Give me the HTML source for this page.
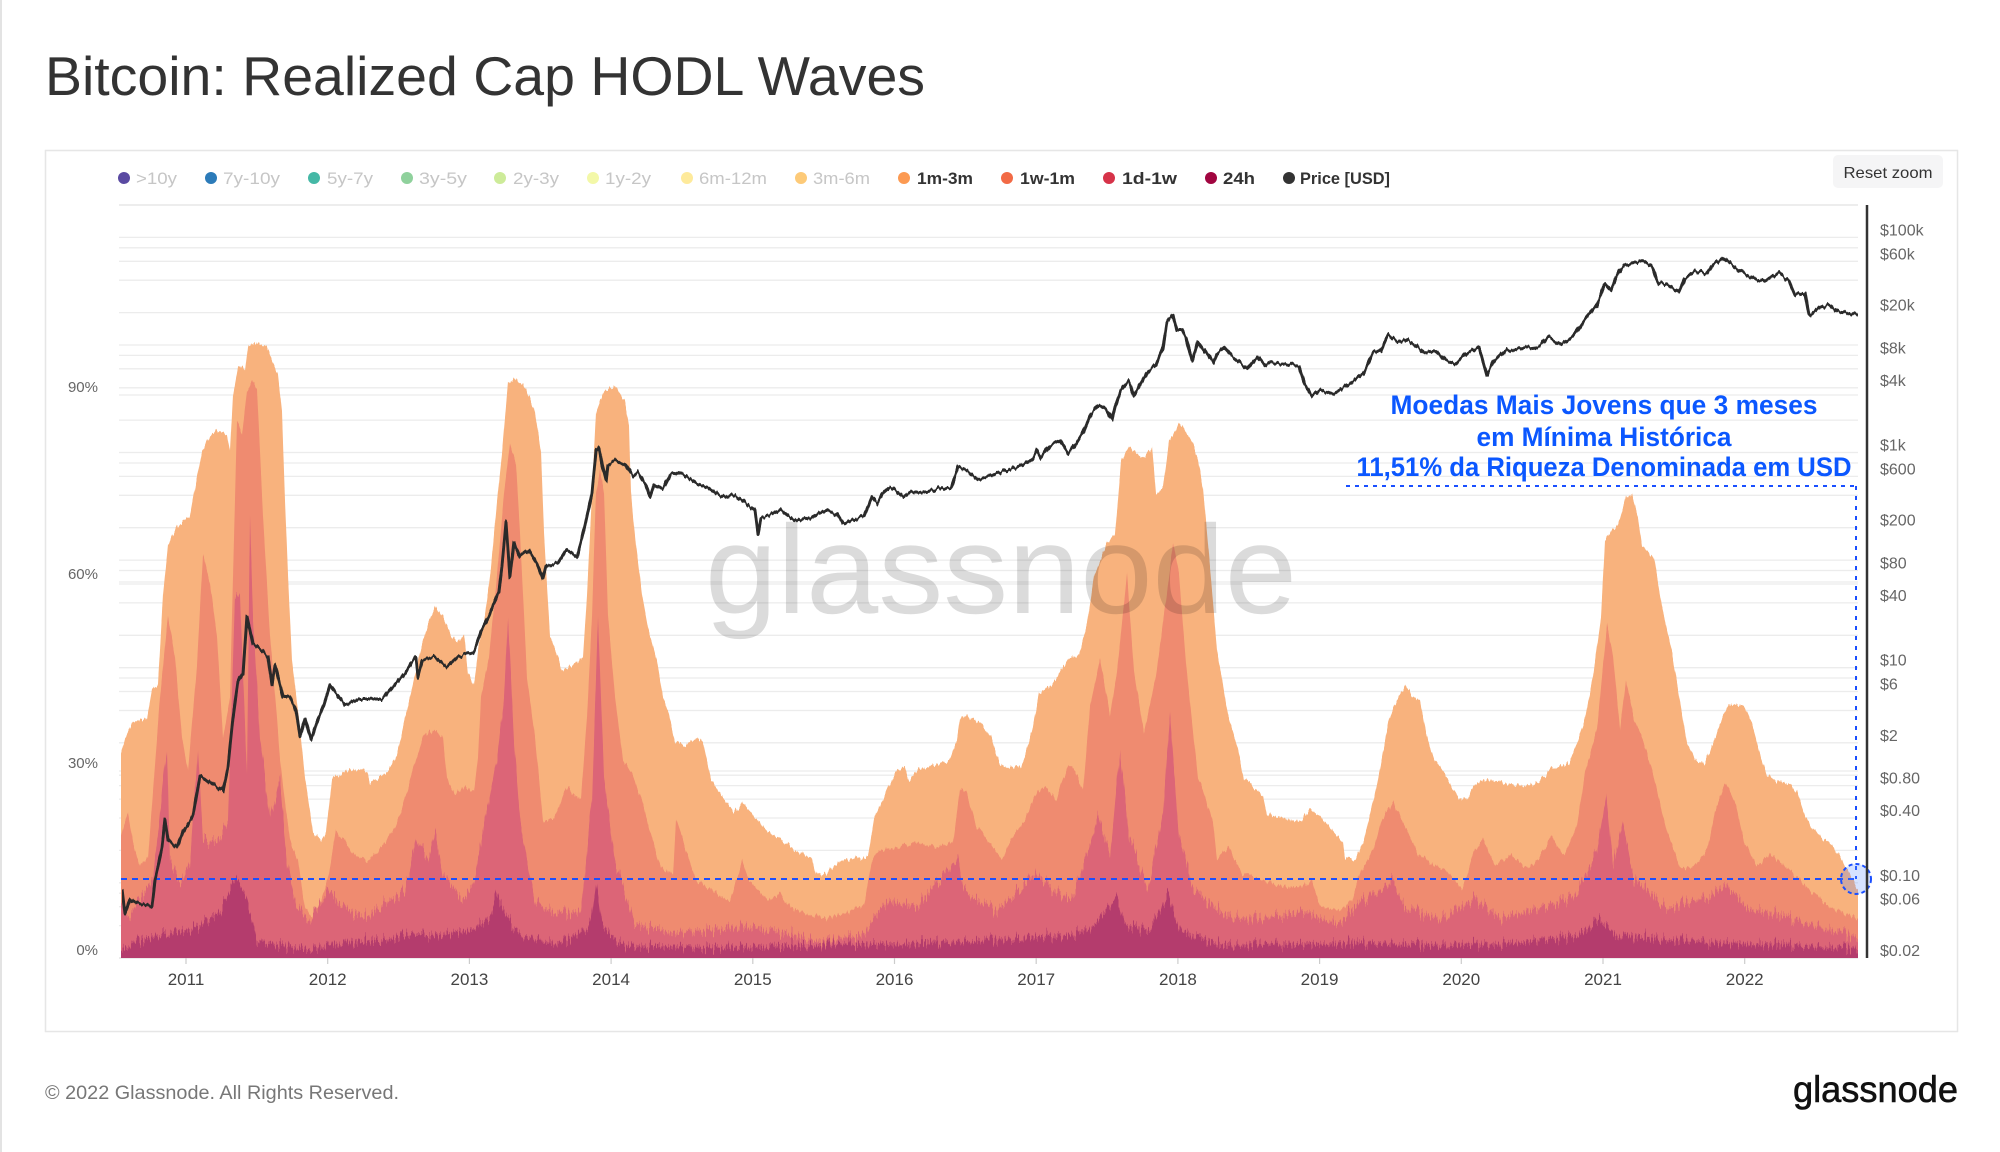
<!DOCTYPE html>
<html><head><meta charset="utf-8"><style>
html,body{margin:0;padding:0;background:#fff;}
svg{display:block;font-family:"Liberation Sans",Arial,sans-serif;}
</style></head><body>
<svg width="2000" height="1152" viewBox="0 0 2000 1152" xmlns="http://www.w3.org/2000/svg">
<defs>
<clipPath id="plot"><rect x="121" y="200" width="1737" height="758"/></clipPath>
<filter id="jagS" x="0" y="-5%" width="100%" height="110%" color-interpolation-filters="sRGB">
<feTurbulence type="fractalNoise" baseFrequency="0.45 0.003" numOctaves="2" seed="4" result="n"/>
<feComponentTransfer in="n" result="m"><feFuncR type="linear" slope="0" intercept="0.5"/></feComponentTransfer>
<feDisplacementMap in="SourceGraphic" in2="m" scale="10" xChannelSelector="R" yChannelSelector="G"/>
</filter>
<filter id="jagL" x="0" y="-5%" width="100%" height="110%" color-interpolation-filters="sRGB">
<feTurbulence type="fractalNoise" baseFrequency="0.6 0.003" numOctaves="2" seed="9" result="n"/>
<feComponentTransfer in="n" result="m"><feFuncR type="linear" slope="0" intercept="0.5"/></feComponentTransfer>
<feDisplacementMap in="SourceGraphic" in2="m" scale="26" xChannelSelector="R" yChannelSelector="G"/>
</filter>
<filter id="jagP" x="0" y="-5%" width="100%" height="110%" color-interpolation-filters="sRGB">
<feTurbulence type="fractalNoise" baseFrequency="0.3 0.01" numOctaves="2" seed="2" result="n"/>
<feComponentTransfer in="n" result="m"><feFuncR type="linear" slope="0" intercept="0.5"/></feComponentTransfer>
<feDisplacementMap in="SourceGraphic" in2="m" scale="7" xChannelSelector="R" yChannelSelector="G"/>
</filter>
</defs>
<rect x="0" y="0" width="2000" height="1152" fill="#fff"/>
<rect x="0" y="0" width="2" height="1152" fill="#e3e3e3"/>
<text x="45" y="95" font-size="55" fill="#333" textLength="880" lengthAdjust="spacingAndGlyphs">Bitcoin: Realized Cap HODL Waves</text>
<rect x="45.5" y="150.5" width="1912" height="881" fill="#fff" stroke="#e6e6e6" stroke-width="1.5"/>
<!-- legend -->
<g font-size="17">
<circle cx="124" cy="178" r="6" fill="#5a4aa2"/><text x="136" y="184" fill="#c6c6c6" textLength="41" lengthAdjust="spacingAndGlyphs">&gt;10y</text>
<circle cx="211" cy="178" r="6" fill="#2c7bb9"/><text x="223" y="184" fill="#c6c6c6" textLength="57" lengthAdjust="spacingAndGlyphs">7y-10y</text>
<circle cx="314" cy="178" r="6" fill="#45b8a6"/><text x="327" y="184" fill="#c6c6c6" textLength="46" lengthAdjust="spacingAndGlyphs">5y-7y</text>
<circle cx="407" cy="178" r="6" fill="#8fd19c"/><text x="419" y="184" fill="#c6c6c6" textLength="48" lengthAdjust="spacingAndGlyphs">3y-5y</text>
<circle cx="500" cy="178" r="6" fill="#cdeb99"/><text x="513" y="184" fill="#c6c6c6" textLength="46" lengthAdjust="spacingAndGlyphs">2y-3y</text>
<circle cx="593" cy="178" r="6" fill="#f3f8a8"/><text x="605" y="184" fill="#c6c6c6" textLength="46" lengthAdjust="spacingAndGlyphs">1y-2y</text>
<circle cx="687" cy="178" r="6" fill="#feea9b"/><text x="699" y="184" fill="#c6c6c6" textLength="68" lengthAdjust="spacingAndGlyphs">6m-12m</text>
<circle cx="801" cy="178" r="6" fill="#fdca78"/><text x="813" y="184" fill="#c6c6c6" textLength="57" lengthAdjust="spacingAndGlyphs">3m-6m</text>
<circle cx="904" cy="178" r="6" fill="#fc9a52"/><text x="917" y="184" fill="#333" font-weight="bold" textLength="56" lengthAdjust="spacingAndGlyphs">1m-3m</text>
<circle cx="1007" cy="178" r="6" fill="#f26a45"/><text x="1020" y="184" fill="#333" font-weight="bold" textLength="55" lengthAdjust="spacingAndGlyphs">1w-1m</text>
<circle cx="1109" cy="178" r="6" fill="#d63349"/><text x="1122" y="184" fill="#333" font-weight="bold" textLength="55" lengthAdjust="spacingAndGlyphs">1d-1w</text>
<circle cx="1211" cy="178" r="6" fill="#a10540"/><text x="1223" y="184" fill="#333" font-weight="bold" textLength="32" lengthAdjust="spacingAndGlyphs">24h</text>
<circle cx="1289" cy="178" r="6" fill="#333"/><text x="1300" y="184" fill="#333" font-weight="bold" textLength="90" lengthAdjust="spacingAndGlyphs">Price [USD]</text>
</g>
<rect x="1833" y="155" width="110" height="33" rx="5" fill="#f5f5f6"/>
<text x="1888" y="178" font-size="16" fill="#333" text-anchor="middle" textLength="89" lengthAdjust="spacingAndGlyphs">Reset zoom</text>
<!-- gridlines -->
<g stroke="#ececec" stroke-width="1.3">
<line x1="119" x2="1858" y1="205" y2="205" stroke="#e2e2e2"/>
<line x1="119" x2="1858" y1="237.4" y2="237.4"/><line x1="119" x2="1858" y1="247.8" y2="247.8"/>
<line x1="119" x2="1858" y1="261.3" y2="261.3"/><line x1="119" x2="1858" y1="280.2" y2="280.2"/>
<line x1="119" x2="1858" y1="312.6" y2="312.6"/><line x1="119" x2="1858" y1="345" y2="345"/>
<line x1="119" x2="1858" y1="355.4" y2="355.4"/><line x1="119" x2="1858" y1="368.8" y2="368.8"/>
<line x1="119" x2="1858" y1="387.8" y2="387.8"/><line x1="119" x2="1858" y1="395" y2="395"/>
<line x1="119" x2="1858" y1="420.1" y2="420.1"/><line x1="119" x2="1858" y1="452.5" y2="452.5"/>
<line x1="119" x2="1858" y1="463" y2="463"/><line x1="119" x2="1858" y1="476.4" y2="476.4"/>
<line x1="119" x2="1858" y1="495.3" y2="495.3"/><line x1="119" x2="1858" y1="527.7" y2="527.7"/>
<line x1="119" x2="1858" y1="560.1" y2="560.1"/><line x1="119" x2="1858" y1="570.5" y2="570.5"/>
<line x1="119" x2="1858" y1="582" y2="582"/><line x1="119" x2="1858" y1="584" y2="584"/>
<line x1="119" x2="1858" y1="602.9" y2="602.9"/><line x1="119" x2="1858" y1="635.3" y2="635.3"/>
<line x1="119" x2="1858" y1="667.7" y2="667.7"/><line x1="119" x2="1858" y1="678" y2="678"/>
<line x1="119" x2="1858" y1="691.5" y2="691.5"/><line x1="119" x2="1858" y1="710.5" y2="710.5"/>
<line x1="119" x2="1858" y1="742.8" y2="742.8"/><line x1="119" x2="1858" y1="771" y2="771"/>
<line x1="119" x2="1858" y1="775.2" y2="775.2"/><line x1="119" x2="1858" y1="785.6" y2="785.6"/>
<line x1="119" x2="1858" y1="799.1" y2="799.1"/><line x1="119" x2="1858" y1="818" y2="818"/>
<line x1="119" x2="1858" y1="850.4" y2="850.4"/><line x1="119" x2="1858" y1="882.8" y2="882.8"/>
<line x1="119" x2="1858" y1="893.2" y2="893.2"/><line x1="119" x2="1858" y1="906.7" y2="906.7"/>
<line x1="119" x2="1858" y1="925.6" y2="925.6"/><line x1="119" x2="1858" y1="958" y2="958" stroke="#e0e0e0"/>
</g>
<!-- areas -->
<g clip-path="url(#plot)">
<g filter="url(#jagS)">
<polygon fill="#f8b27d" points="121,970 121,754 125,738 133,722 147,718 152,689 158,685 163,595 168,546 177,526 190,516 197,477 202,452 210,434 217,430 227,436 230,452 233,395 238,367 243,367 245,371 248,346 257,343 267,346 273,363 278,375 282,412 285,501 288,575 292,660 298,710 305,779 313,832 321,840 326,832 332,779 336,777 345,772 359,769 367,771 370,783 378,779 389,771 397,754 405,718 412,689 420,652 428,624 435,608 443,616 451,636 458,642 464,634 468,673 474,685 479,644 485,616 491,567 497,501 502,452 508,383 516,379 527,391 535,412 541,452 544,534 550,636 558,657 562,671 573,665 583,657 587,595 592,493 596,412 604,391 617,387 625,403 629,424 631,493 636,546 642,595 648,628 657,661 663,697 669,714 675,742 684,746 696,738 703,742 711,779 722,795 734,812 743,803 753,816 768,832 788,844 799,852 812,857 816,875 826,873 841,861 856,859 868,857 874,820 883,799 888,787 897,770 905,768 909,781 918,770 937,764 949,762 957,740 960,719 966,715 980,723 991,736 999,762 1006,768 1022,766 1027,749 1033,727 1039,693 1052,685 1060,672 1068,659 1079,655 1087,625 1094,578 1106,544 1115,535 1121,462 1129,447 1136,454 1144,458 1152,447 1156,494 1163,488 1169,441 1180,424 1190,437 1198,458 1203,488 1209,556 1217,650 1228,715 1238,749 1244,779 1251,785 1263,796 1267,815 1282,817 1301,821 1309,809 1320,817 1332,830 1343,843 1345,858 1356,859 1364,838 1373,802 1381,763 1389,719 1397,700 1405,685 1413,697 1420,700 1426,734 1434,758 1446,777 1458,797 1467,799 1477,782 1495,780 1511,785 1528,787 1544,777 1552,768 1569,763 1577,743 1585,719 1593,676 1601,617 1605,540 1618,525 1626,496 1632,494 1638,516 1642,545 1654,559 1662,608 1671,647 1679,695 1687,743 1695,760 1705,763 1711,748 1720,724 1728,705 1744,705 1752,724 1760,753 1767,777 1785,782 1797,792 1805,816 1818,836 1830,843 1842,860 1850,874 1858,889 1858,970"/>
<polygon fill="#ef8b70" points="121,970 121,836 128,812 133,844 140,865 148,857 160,697 168,616 175,657 182,738 188,771 197,665 203,554 210,583 217,636 223,738 230,697 237,420 242,436 247,391 252,381 257,389 263,514 270,636 277,718 280,759 287,820 290,840 298,861 305,909 313,918 321,901 328,877 336,832 344,840 351,852 367,861 378,852 393,832 405,799 416,759 424,734 435,730 443,738 447,779 455,795 466,787 474,791 478,759 481,697 489,657 497,575 504,493 510,444 516,465 520,534 527,677 535,738 543,820 554,820 566,787 581,799 587,718 592,616 596,493 600,469 604,493 608,616 615,697 623,759 634,779 642,799 650,832 661,869 673,873 676,820 684,844 696,881 711,889 730,901 742,861 749,881 768,901 780,893 788,905 807,914 826,918 845,914 864,905 872,861 880,850 899,847 918,843 937,847 953,843 960,791 966,789 976,826 991,843 1002,860 1014,834 1025,821 1037,791 1045,787 1056,800 1068,766 1075,770 1083,791 1090,706 1100,659 1110,715 1117,672 1127,574 1134,672 1144,732 1156,676 1165,608 1173,544 1179,574 1186,663 1198,779 1205,796 1213,821 1217,860 1228,847 1242,873 1263,881 1282,886 1301,886 1312,881 1320,907 1339,911 1352,900 1360,872 1373,850 1381,821 1393,802 1405,826 1418,855 1434,865 1450,874 1462,889 1475,850 1483,840 1495,865 1511,855 1528,870 1544,850 1552,836 1564,855 1577,826 1585,773 1597,729 1607,625 1613,656 1620,729 1626,680 1634,719 1644,743 1654,777 1667,831 1679,865 1691,870 1707,850 1715,811 1726,782 1736,806 1744,840 1756,865 1773,855 1789,870 1809,889 1830,908 1858,918 1858,970"/>
</g>
<g filter="url(#jagL)">
<polygon fill="#dc6577" points="121,975 121,901 130,918 143,893 153,877 167,746 170,861 180,885 190,861 198,750 203,840 217,840 228,820 235,595 240,595 247,779 250,514 253,616 260,738 270,820 280,779 287,861 296,905 309,922 328,889 347,910 367,918 386,901 405,893 416,840 428,861 435,832 443,873 462,901 474,881 485,820 497,759 504,697 508,616 514,738 520,820 535,901 558,914 581,910 592,799 598,616 604,779 615,861 634,922 673,934 711,930 749,926 788,934 826,942 864,934 878,912 890,900 918,907 958,856 964,890 995,911 1037,873 1052,890 1071,898 1087,856 1098,817 1110,856 1120,753 1129,834 1148,890 1163,813 1170,715 1179,834 1194,890 1224,915 1263,920 1301,911 1339,924 1364,899 1381,889 1393,879 1405,908 1442,918 1475,899 1503,918 1544,908 1577,894 1597,850 1606,792 1613,865 1622,821 1634,879 1667,908 1707,899 1724,884 1748,908 1789,918 1858,937 1858,975"/>
<polygon fill="#b43c6d" points="121,975 121,950 140,940 160,934 193,930 220,910 237,877 247,901 257,942 280,945 310,950 330,944 380,940 410,935 440,935 470,930 490,918 497,893 505,915 520,935 560,944 590,925 596,881 602,925 620,945 700,948 780,946 860,944 900,944 950,942 980,940 1020,938 1060,936 1090,930 1117,898 1125,925 1150,930 1168,894 1180,930 1220,945 1300,944 1380,943 1450,945 1520,943 1580,935 1600,918 1615,935 1700,942 1780,945 1858,948 1858,975"/>
</g>
</g>
<!-- watermark -->
<text x="705" y="613" font-size="126" fill="#000" fill-opacity="0.14" textLength="592" lengthAdjust="spacingAndGlyphs">glassnode</text>
<!-- annotation lines -->
<g stroke="#1a4fff" stroke-width="2" fill="none">
<line x1="121" y1="879" x2="1856" y2="879" stroke-dasharray="6,5"/>
<line x1="1346" y1="486" x2="1856" y2="486" stroke-dasharray="4,5"/>
<line x1="1856" y1="486" x2="1856" y2="879" stroke-dasharray="4,6"/>
</g>
<!-- price line -->
<g filter="url(#jagP)">
<polyline fill="none" stroke="#2a2a2a" stroke-width="3" stroke-linejoin="round" points="122,889 125,914 130,899 137,903 145,905 152,906 155,881 162,848 165,820 168,840 177,848 183,832 193,816 200,775 210,783 223,791 228,767 233,718 238,681 243,673 247,616 253,644 263,652 268,657 272,685 275,665 283,697 290,697 296,710 300,736 305,718 311,740 317,722 324,705 330,685 336,693 345,705 359,699 382,699 391,689 405,673 411,663 416,657 418,677 422,661 435,657 447,667 458,657 474,652 481,632 489,616 499,591 502,567 506,522 510,577 514,542 520,557 529,550 537,563 543,579 546,567 558,563 566,550 577,557 585,526 592,493 596,452 599,448 602,465 606,481 608,465 615,461 625,465 633,477 638,473 646,485 650,497 654,485 663,489 671,473 684,475 696,483 707,487 719,495 726,497 734,495 743,501 749,506 755,510 758,534 761,518 772,514 780,510 788,516 795,520 810,518 826,510 837,514 843,524 853,520 864,516 872,497 877,503 883,493 890,487 895,490 903,497 911,492 926,492 941,488 951,488 958,467 968,471 978,479 991,475 1006,471 1022,465 1033,458 1037,450 1041,458 1050,445 1060,441 1068,454 1075,445 1083,432 1090,415 1098,405 1106,409 1112,420 1115,407 1121,390 1129,381 1134,396 1140,385 1148,371 1156,364 1163,347 1167,321 1173,315 1177,330 1182,330 1186,338 1192,362 1198,341 1205,351 1213,362 1217,353 1224,347 1232,356 1242,364 1247,368 1257,356 1265,366 1270,362 1286,364 1299,366 1305,385 1312,396 1320,390 1332,394 1340,390 1352,382 1364,373 1373,353 1381,351 1388,335 1397,341 1405,339 1416,346 1424,353 1436,351 1446,361 1456,363 1467,353 1479,346 1487,375 1493,363 1507,350 1524,348 1540,346 1548,337 1560,344 1573,336 1585,319 1597,305 1605,283 1611,290 1618,273 1624,266 1634,264 1644,261 1652,266 1658,283 1667,285 1679,292 1685,278 1695,271 1707,273 1713,264 1722,258 1730,264 1740,271 1752,278 1764,281 1779,273 1789,281 1795,295 1805,293 1809,315 1820,307 1830,305 1838,312 1846,313 1858,315"/>
</g>
<circle cx="1856" cy="879" r="15" fill="#5a8cff" fill-opacity="0.25" stroke="#1a4fff" stroke-width="2" stroke-dasharray="4,3"/>
<!-- annotation text -->
<g font-size="27" font-weight="bold" fill="#0b57ff" text-anchor="middle">
<text x="1604" y="414" textLength="427" lengthAdjust="spacingAndGlyphs">Moedas Mais Jovens que 3 meses</text>
<text x="1604" y="446" textLength="255" lengthAdjust="spacingAndGlyphs">em Mínima Histórica</text>
<text x="1604" y="476" textLength="495" lengthAdjust="spacingAndGlyphs">11,51% da Riqueza Denominada em USD</text>
</g>
<!-- right axis -->
<line x1="1867" y1="205" x2="1867" y2="958" stroke="#333" stroke-width="2.5"/>
<g font-size="16" fill="#666">
<text x="1880" y="235.4">$100k</text><text x="1880" y="259.3">$60k</text><text x="1880" y="310.6">$20k</text>
<text x="1880" y="353.4">$8k</text><text x="1880" y="385.8">$4k</text><text x="1880" y="450.5">$1k</text>
<text x="1880" y="474.4">$600</text><text x="1880" y="525.7">$200</text><text x="1880" y="568.5">$80</text>
<text x="1880" y="600.9">$40</text><text x="1880" y="665.7">$10</text><text x="1880" y="689.5">$6</text>
<text x="1880" y="740.8">$2</text><text x="1880" y="783.6">$0.80</text><text x="1880" y="816">$0.40</text>
<text x="1880" y="880.8">$0.10</text><text x="1880" y="904.7">$0.06</text><text x="1880" y="956">$0.02</text>
</g>
<!-- left axis -->
<g font-size="15" fill="#666" text-anchor="end">
<text x="98" y="392">90%</text><text x="98" y="579">60%</text><text x="98" y="768">30%</text><text x="98" y="955">0%</text>
</g>
<!-- x axis -->
<g stroke="#ccc" stroke-width="1.2">
<line x1="186" x2="186" y1="958" y2="964"/><line x1="327.7" x2="327.7" y1="958" y2="964"/>
<line x1="469.4" x2="469.4" y1="958" y2="964"/><line x1="611.1" x2="611.1" y1="958" y2="964"/>
<line x1="752.8" x2="752.8" y1="958" y2="964"/><line x1="894.5" x2="894.5" y1="958" y2="964"/>
<line x1="1036.2" x2="1036.2" y1="958" y2="964"/><line x1="1177.9" x2="1177.9" y1="958" y2="964"/>
<line x1="1319.6" x2="1319.6" y1="958" y2="964"/><line x1="1461.3" x2="1461.3" y1="958" y2="964"/>
<line x1="1603" x2="1603" y1="958" y2="964"/><line x1="1744.7" x2="1744.7" y1="958" y2="964"/>
</g>
<g font-size="17" fill="#444" text-anchor="middle">
<text x="186" y="985">2011</text><text x="327.7" y="985">2012</text><text x="469.4" y="985">2013</text>
<text x="611.1" y="985">2014</text><text x="752.8" y="985">2015</text><text x="894.5" y="985">2016</text>
<text x="1036.2" y="985">2017</text><text x="1177.9" y="985">2018</text><text x="1319.6" y="985">2019</text>
<text x="1461.3" y="985">2020</text><text x="1603" y="985">2021</text><text x="1744.7" y="985">2022</text>
</g>
<!-- footer -->
<text x="45" y="1099" font-size="19" fill="#777" textLength="354" lengthAdjust="spacingAndGlyphs">© 2022 Glassnode. All Rights Reserved.</text>
<text x="1793" y="1102" font-size="37" fill="#111" stroke="#111" stroke-width="0.6" textLength="165" lengthAdjust="spacingAndGlyphs">glassnode</text>
</svg>
</body></html>
